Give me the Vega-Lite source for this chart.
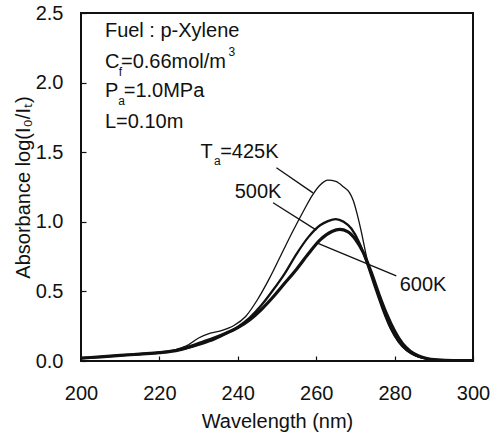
{
  "$schema": "https://vega.github.io/schema/vega-lite/v6.json",
  "autosize": {"type": "none"},
  "width": 392,
  "height": 348,
  "padding": {"left": 81, "top": 13, "right": 26, "bottom": 73},
  "background": "white",
  "config": {
    "view": {"stroke": "#111", "strokeWidth": 2},
    "font": "Liberation Sans",
    "axis": {"labelFont": "Liberation Sans", "titleFont": "Liberation Sans", "labelColor": "#111", "titleColor": "#111", "titleFontWeight": "normal", "grid": false, "domain": false, "tickColor": "#111", "tickWidth": 1.2}
  },
  "datasets": {
    "spectra": [
      {"wl": 200, "A": 0.02, "T": "425K"}, {"wl": 205, "A": 0.03, "T": "425K"}, {"wl": 210, "A": 0.04, "T": "425K"}, {"wl": 215, "A": 0.05, "T": "425K"}, {"wl": 220, "A": 0.06, "T": "425K"}, {"wl": 224, "A": 0.08, "T": "425K"}, {"wl": 227, "A": 0.11, "T": "425K"}, {"wl": 230, "A": 0.165, "T": "425K"}, {"wl": 233, "A": 0.2, "T": "425K"}, {"wl": 236, "A": 0.22, "T": "425K"}, {"wl": 239, "A": 0.255, "T": "425K"}, {"wl": 242, "A": 0.32, "T": "425K"}, {"wl": 245, "A": 0.44, "T": "425K"}, {"wl": 248, "A": 0.59, "T": "425K"}, {"wl": 251, "A": 0.76, "T": "425K"}, {"wl": 254, "A": 0.93, "T": "425K"}, {"wl": 257, "A": 1.09, "T": "425K"}, {"wl": 259, "A": 1.19, "T": "425K"}, {"wl": 261, "A": 1.265, "T": "425K"}, {"wl": 263, "A": 1.3, "T": "425K"}, {"wl": 265, "A": 1.29, "T": "425K"}, {"wl": 267, "A": 1.25, "T": "425K"}, {"wl": 268.5, "A": 1.21, "T": "425K"}, {"wl": 269.5, "A": 1.15, "T": "425K"}, {"wl": 270.5, "A": 1.05, "T": "425K"}, {"wl": 271.5, "A": 0.93, "T": "425K"}, {"wl": 273, "A": 0.73, "T": "425K"}, {"wl": 275, "A": 0.54, "T": "425K"}, {"wl": 277, "A": 0.37, "T": "425K"}, {"wl": 279, "A": 0.23, "T": "425K"}, {"wl": 281, "A": 0.135, "T": "425K"}, {"wl": 283, "A": 0.075, "T": "425K"}, {"wl": 285, "A": 0.04, "T": "425K"}, {"wl": 287, "A": 0.02, "T": "425K"}, {"wl": 290, "A": 0.008, "T": "425K"}, {"wl": 295, "A": 0.003, "T": "425K"}, {"wl": 300, "A": 0.002, "T": "425K"},
      {"wl": 200, "A": 0.02, "T": "500K"}, {"wl": 205, "A": 0.03, "T": "500K"}, {"wl": 210, "A": 0.04, "T": "500K"}, {"wl": 215, "A": 0.05, "T": "500K"}, {"wl": 220, "A": 0.06, "T": "500K"}, {"wl": 225, "A": 0.08, "T": "500K"}, {"wl": 228, "A": 0.1, "T": "500K"}, {"wl": 231, "A": 0.125, "T": "500K"}, {"wl": 234, "A": 0.155, "T": "500K"}, {"wl": 237, "A": 0.195, "T": "500K"}, {"wl": 240, "A": 0.245, "T": "500K"}, {"wl": 243, "A": 0.31, "T": "500K"}, {"wl": 246, "A": 0.4, "T": "500K"}, {"wl": 249, "A": 0.51, "T": "500K"}, {"wl": 252, "A": 0.63, "T": "500K"}, {"wl": 255, "A": 0.77, "T": "500K"}, {"wl": 258, "A": 0.89, "T": "500K"}, {"wl": 261, "A": 0.975, "T": "500K"}, {"wl": 263, "A": 1.005, "T": "500K"}, {"wl": 265, "A": 1.02, "T": "500K"}, {"wl": 267, "A": 1.0, "T": "500K"}, {"wl": 269, "A": 0.95, "T": "500K"}, {"wl": 271, "A": 0.85, "T": "500K"}, {"wl": 273, "A": 0.7, "T": "500K"}, {"wl": 275, "A": 0.53, "T": "500K"}, {"wl": 277, "A": 0.37, "T": "500K"}, {"wl": 279, "A": 0.235, "T": "500K"}, {"wl": 281, "A": 0.14, "T": "500K"}, {"wl": 283, "A": 0.08, "T": "500K"}, {"wl": 285, "A": 0.045, "T": "500K"}, {"wl": 287, "A": 0.024, "T": "500K"}, {"wl": 290, "A": 0.009, "T": "500K"}, {"wl": 295, "A": 0.003, "T": "500K"}, {"wl": 300, "A": 0.002, "T": "500K"},
      {"wl": 200, "A": 0.02, "T": "600K"}, {"wl": 205, "A": 0.03, "T": "600K"}, {"wl": 210, "A": 0.04, "T": "600K"}, {"wl": 215, "A": 0.05, "T": "600K"}, {"wl": 220, "A": 0.06, "T": "600K"}, {"wl": 225, "A": 0.08, "T": "600K"}, {"wl": 228, "A": 0.105, "T": "600K"}, {"wl": 231, "A": 0.135, "T": "600K"}, {"wl": 234, "A": 0.165, "T": "600K"}, {"wl": 237, "A": 0.2, "T": "600K"}, {"wl": 240, "A": 0.24, "T": "600K"}, {"wl": 243, "A": 0.295, "T": "600K"}, {"wl": 246, "A": 0.37, "T": "600K"}, {"wl": 249, "A": 0.46, "T": "600K"}, {"wl": 252, "A": 0.56, "T": "600K"}, {"wl": 255, "A": 0.66, "T": "600K"}, {"wl": 258, "A": 0.77, "T": "600K"}, {"wl": 261, "A": 0.87, "T": "600K"}, {"wl": 264, "A": 0.93, "T": "600K"}, {"wl": 266, "A": 0.945, "T": "600K"}, {"wl": 268, "A": 0.93, "T": "600K"}, {"wl": 270, "A": 0.875, "T": "600K"}, {"wl": 272, "A": 0.78, "T": "600K"}, {"wl": 274, "A": 0.64, "T": "600K"}, {"wl": 276, "A": 0.48, "T": "600K"}, {"wl": 278, "A": 0.335, "T": "600K"}, {"wl": 280, "A": 0.215, "T": "600K"}, {"wl": 282, "A": 0.125, "T": "600K"}, {"wl": 284, "A": 0.07, "T": "600K"}, {"wl": 286, "A": 0.038, "T": "600K"}, {"wl": 288, "A": 0.02, "T": "600K"}, {"wl": 291, "A": 0.008, "T": "600K"}, {"wl": 295, "A": 0.003, "T": "600K"}, {"wl": 300, "A": 0.002, "T": "600K"}
    ],
    "texts": [
      {"x": 206.1, "y": 2.328, "text": "Fuel : p-Xylene"},
      {"x": 206.1, "y": 2.106, "text": "C"},
      {"x": 210.2, "y": 2.106, "text": "=0.66mol/m"},
      {"x": 206.1, "y": 1.898, "text": "P"},
      {"x": 210.9, "y": 1.898, "text": "=1.0MPa"},
      {"x": 206.1, "y": 1.676, "text": "L=0.10m"},
      {"x": 230.5, "y": 1.461, "text": "T"},
      {"x": 235.5, "y": 1.461, "text": "=425K"},
      {"x": 239.2, "y": 1.168, "text": "500K"},
      {"x": 281.3, "y": 0.501, "text": "600K"}
    ],
    "smalltexts": [
      {"x": 209.6, "y": 2.05, "text": "f"},
      {"x": 237.6, "y": 2.19, "text": "3"},
      {"x": 209.5, "y": 1.84, "text": "a"},
      {"x": 233.9, "y": 1.405, "text": "a"}
    ],
    "leaders": [
      {"x": 249.86, "y": 1.388, "x2": 259.18, "y2": 1.208},
      {"x": 249.0, "y": 1.137, "x2": 260.05, "y2": 0.94},
      {"x": 260.46, "y": 0.845, "x2": 280.43, "y2": 0.611}
    ]
  },
  "layer": [
    {
      "data": {"name": "spectra"},
      "mark": {"type": "line", "interpolate": "monotone", "color": "#111", "clip": true},
      "encoding": {
        "x": {"field": "wl", "type": "quantitative", "scale": {"domain": [200, 300], "nice": false},
          "axis": {"values": [200, 220, 240, 260, 280, 300], "title": "Wavelength (nm)", "labelFontSize": 20, "titleFontSize": 20, "tickSize": -5, "labelPadding": 27, "titlePadding": 8, "labelFlush": false}},
        "y": {"field": "A", "type": "quantitative", "scale": {"domain": [0, 2.5], "nice": false},
          "axis": {"values": [0, 0.5, 1, 1.5, 2, 2.5], "format": ".1f", "title": "Absorbance log(I₀/Iₜ)", "labelFontSize": 20, "titleFontSize": 20, "tickSize": -5, "labelPadding": 23, "titlePadding": 2, "labelFlush": false}},
        "detail": {"field": "T", "type": "nominal"},
        "strokeWidth": {"field": "T", "type": "nominal", "scale": {"domain": ["425K", "500K", "600K"], "range": [1.3, 3.2, 2.3]}, "legend": null}
      }
    },
    {
      "data": {"name": "leaders"},
      "mark": {"type": "rule", "color": "#111", "strokeWidth": 1.3},
      "encoding": {
        "x": {"field": "x", "type": "quantitative"},
        "y": {"field": "y", "type": "quantitative"},
        "x2": {"field": "x2"},
        "y2": {"field": "y2"}
      }
    },
    {
      "data": {"name": "texts"},
      "mark": {"type": "text", "align": "left", "baseline": "alphabetic", "fontSize": 20, "font": "Liberation Sans", "color": "#111"},
      "encoding": {
        "x": {"field": "x", "type": "quantitative"},
        "y": {"field": "y", "type": "quantitative"},
        "text": {"field": "text"}
      }
    },
    {
      "data": {"name": "smalltexts"},
      "mark": {"type": "text", "align": "left", "baseline": "alphabetic", "fontSize": 12, "font": "Liberation Sans", "color": "#111"},
      "encoding": {
        "x": {"field": "x", "type": "quantitative"},
        "y": {"field": "y", "type": "quantitative"},
        "text": {"field": "text"}
      }
    }
  ]
}
